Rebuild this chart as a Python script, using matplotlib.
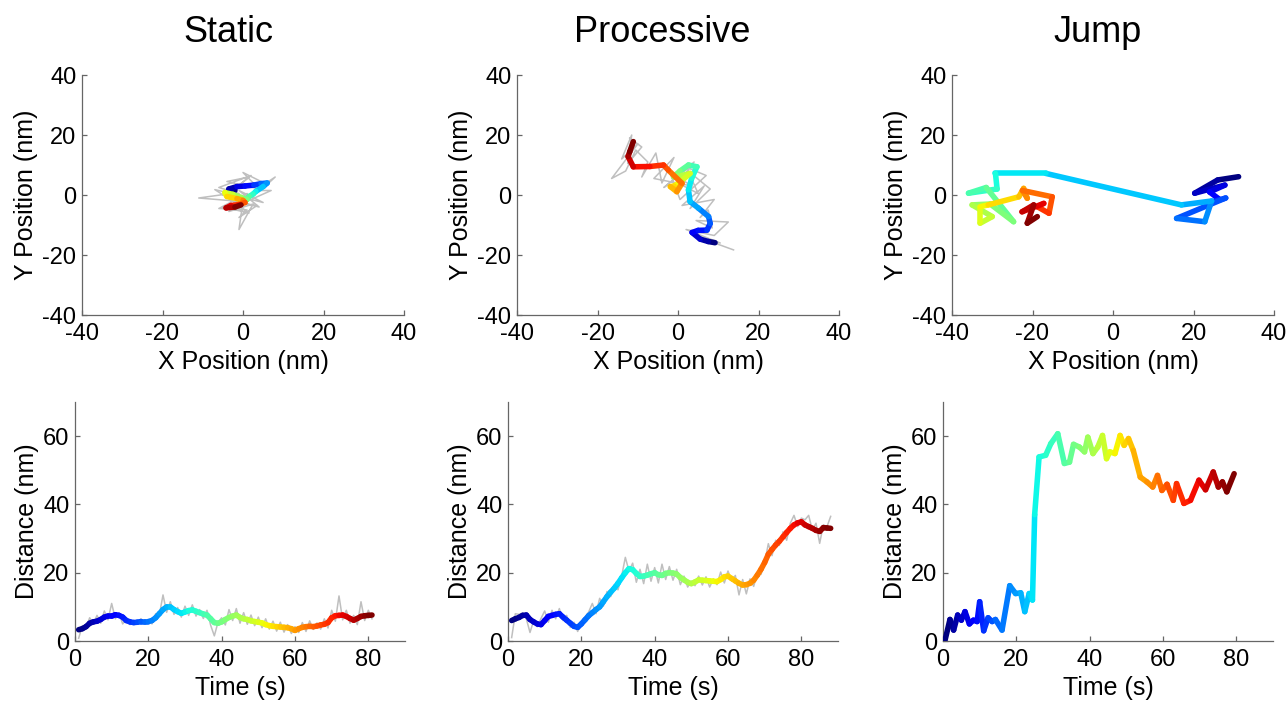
import numpy as np
import matplotlib
matplotlib.use('Agg')
from matplotlib import pyplot as plt
from matplotlib.collections import LineCollection

plt.rcParams['font.family'] = ['Liberation Sans', 'DejaVu Sans']
plt.rcParams['axes.unicode_minus'] = False

titles = ['Static', 'Processive', 'Jump']

# ---- top row: x/y positions (nm), smoothed track in time order ----
static_x = [-2.0, -3.5, -1.5, 0.5, 2.7, 4.5, 6.0, 5.0, 3.2, 2.5, 1.5, 1.0, -0.5, -2.5,
            -4.5, -4.0, -1.5, 0.0, 0.5, -1.0, -3.0, -4.2, -2.0, -0.5]
static_y = [1.5, 2.0, 2.8, 3.0, 3.3, 3.8, 4.0, 2.8, 1.2, 0.3, -0.5, -1.5, -0.8, 0.2,
            0.8, -0.5, -1.2, -1.8, -2.5, -3.2, -3.5, -4.3, -4.0, -3.3]
static_raw_x = [-1.0, -6.0, 2.0, -3.0, 1.5, -4.0, 4.0, 0.0, 6.0, 8.0, 3.0, 7.0, 2.0, 5.0,
                -1.0, 4.0, -2.0, -11.0, -3.0, -7.0, -1.5, 1.0, -3.5, 2.5, -1.0, 0.0,
                -5.0, 1.5, -2.5, -6.0, 1.0, -1.0, 3.5, -2.0]
static_raw_y = [0.5, 2.5, 6.5, 1.0, 6.0, 4.5, 2.0, 7.5, 3.5, 6.0, 1.5, 1.5, -1.5, -2.5,
                1.5, -4.0, -2.0, -1.0, 0.5, 1.8, -3.0, 0.5, -5.5, -3.0, -11.5, -2.0,
                -4.0, -6.0, -2.0, -4.5, -5.0, -7.5, -3.5, -2.5]

proc_x = [9.2, 7.5, 5.5, 3.5, 5.0, 7.2, 8.0, 7.6, 5.1, 3.0, 2.6, 3.4, 4.7, 2.6, 0.5,
          -1.1, 1.0, 3.0, 0.6, -1.0, -1.9, -0.3, 1.0, -2.4, -3.6, -7.0, -11.1, -12.4,
          -12.0, -11.1]
proc_y = [-15.9, -15.5, -14.7, -12.5, -11.8, -11.7, -9.5, -7.2, -4.4, -2.2, 1.7, 5.6,
          9.4, 10.0, 8.0, 6.1, 6.5, 7.2, 4.4, 3.0, 2.8, 1.1, 3.9, 8.3, 10.0, 9.5, 9.4,
          12.8, 14.4, 17.8]
proc_raw_x = [13.8, 6.0, 10.5, 2.0, 9.0, 12.5, 4.5, 8.5, 7.5, 5.5, 9.0, 1.0, 6.5, 3.0,
              8.0, 2.5, 5.0, 0.0, 4.0, -3.5, 2.5, 7.0, 0.5, -2.0, 3.5, -6.0, -1.0,
              -4.0, -5.5, -9.0, -7.5, -10.5, -13.0, -16.5, -10.0, -14.0, -11.5, -12.5,
              -9.0, -12.0]
proc_raw_y = [-18.3, -14.5, -16.0, -11.5, -13.5, -9.0, -8.5, -11.0, -5.0, -7.5, -1.5,
              -3.5, 3.0, -4.5, 2.0, 8.0, 0.5, 4.0, 11.0, 2.5, 9.0, 6.5, -1.5, 7.5, 3.0,
              5.5, 12.5, 4.0, 14.0, 6.0, 11.0, 15.0, 8.0, 5.5, 17.0, 12.0, 20.0, 10.5,
              16.0, 19.0]

jump_x = [31.2, 26.0, 20.3, 27.8, 24.0, 26.5, 23.7, 28.0, 15.8, 22.8, 24.5, 17.0,
          -16.7, -29.2, -28.8, -35.9, -31.5, -24.7, -30.5, -35.0, -30.0, -33.0, -33.0,
          -31.0, -23.4, -22.2, -21.3, -22.5, -15.1, -15.9, -18.8, -17.2, -22.6, -19.7,
          -21.3, -18.8]
jump_y = [6.1, 5.0, 0.6, 3.3, 1.0, -1.5, -2.8, -1.0, -7.8, -8.9, -2.0, -3.3,
          7.2, 7.2, 2.0, 0.6, 2.5, -8.9, -3.0, -3.3, -7.2, -9.4, -3.9,
          -3.3, -0.6, 2.2, -1.1, 1.5, -0.6, -6.1, -3.9, -2.8, -5.6, -3.3,
          -9.4, -7.2]

# ---- bottom row: distance (nm) vs time (s) ----
static_t = list(range(1, 82))
static_d = [3.3, 3.6, 4.2, 5.2, 5.6, 5.8, 6.3, 7.0, 7.3, 7.3, 7.7, 7.5, 7.0, 6.0, 5.6,
            5.4, 5.5, 5.7, 5.7, 5.7, 6.0, 6.8, 8.0, 9.2, 10.0, 10.0, 9.2, 8.6, 8.1, 8.5,
            8.9, 9.1, 8.7, 8.3, 7.9, 7.6, 6.5, 5.4, 5.2, 5.6, 6.3, 6.9, 7.3, 7.6, 6.9,
            6.5, 6.3, 5.9, 5.7, 5.5, 5.3, 4.8, 4.5, 4.3, 4.2, 4.1, 4.0, 3.9, 3.6, 3.1,
            3.6, 4.0, 4.2, 4.3, 4.2, 4.4, 4.7, 4.9, 5.4, 6.8, 7.4, 7.5, 7.6, 7.2, 6.6,
            6.1, 6.6, 7.2, 7.4, 7.5, 7.6]
static_d_raw = [0.8, 4.5, 3.8, 6.8, 5.0, 7.5, 5.2, 8.8, 6.2, 11.0, 6.5, 8.2, 5.0, 6.4,
                4.8, 5.9, 5.0, 6.5, 5.2, 6.2, 5.0, 8.0, 7.6, 13.5, 8.4, 11.5, 7.8, 9.8,
                7.0, 10.2, 7.5, 10.6, 7.3, 9.2, 6.6, 9.0, 4.6, 1.5, 5.5, 6.8, 4.7, 9.2,
                6.0, 9.5, 5.2, 8.3, 4.9, 7.6, 4.5, 7.0, 3.9, 6.5, 3.5, 5.8, 2.9, 5.5,
                2.6, 4.8, 2.2, 4.2, 2.5, 5.4, 2.8, 5.9, 3.4, 5.3, 3.5, 6.5, 3.8, 9.0,
                5.8, 13.2, 6.2, 9.0, 5.2, 7.5, 4.8, 11.5, 6.0, 9.0, 6.5]

proc_t = list(range(1, 89))
proc_d = [6.0, 6.5, 6.9, 7.5, 7.6, 6.3, 5.6, 5.0, 4.8, 6.0, 7.2, 7.5, 7.8, 8.0, 7.0,
          6.1, 5.2, 4.3, 4.0, 5.0, 6.2, 7.4, 8.3, 9.2, 10.0, 11.5, 13.0, 14.3, 15.5,
          16.9, 18.5, 20.0, 21.2, 20.9, 19.8, 18.9, 19.0, 19.3, 19.7, 20.0, 19.4, 19.2,
          19.8, 20.0, 19.9, 19.6, 18.6, 17.9, 17.2, 16.8, 17.3, 17.9, 17.8, 17.7, 17.6,
          17.5, 17.4, 18.0, 18.8, 19.0, 18.3, 17.6, 16.9, 16.4, 16.5, 16.9, 17.8, 19.3,
          21.0, 23.0, 25.4, 26.8, 28.1, 29.2, 30.5, 31.8, 33.0, 34.0, 34.6, 34.9, 34.0,
          33.5, 33.0, 32.4, 32.1, 33.2, 33.1, 33.0]
proc_d_raw = [1.0, 8.0, 7.8, 8.2, 6.5, 2.5, 6.0, 4.2, 6.6, 8.8, 5.5, 9.0, 6.5, 9.5, 6.0,
              7.5, 4.0, 5.5, 2.8, 5.5, 7.0, 8.5, 11.0, 8.0, 12.5, 10.2, 14.5, 13.0, 16.5,
              15.0, 19.0, 24.5, 20.5, 22.8, 17.2, 21.0, 16.8, 22.5, 17.5, 21.5, 17.0,
              22.5, 18.0, 21.8, 17.8, 21.0, 16.5, 19.0, 15.8, 17.5, 16.2, 19.0, 16.4,
              18.8, 15.8, 18.2, 16.5, 20.2, 17.0, 20.5, 17.5, 19.2, 13.5, 18.0, 13.8,
              18.2, 16.0, 20.0, 19.5, 23.0, 28.5, 25.0, 29.5, 28.0, 32.0, 29.5, 34.5,
              36.8, 33.5, 36.0, 35.5, 36.8, 32.5, 34.5, 28.6, 34.0, 33.5, 36.5]

jump_t = [0.5, 1.9, 2.9, 4.0, 5.0, 6.0, 7.2, 8.3, 9.3, 10.0, 11.1, 12.3, 13.4, 14.3,
          16.1, 18.2, 19.8, 21.2, 22.3, 23.5, 24.4, 25.0, 26.2, 28.0, 29.4, 31.3, 33.1,
          34.5, 35.6, 37.2, 38.6, 39.5, 40.9, 42.2, 43.5, 44.6, 45.5, 46.9, 48.3, 49.4,
          50.6, 51.9, 53.8, 55.6, 57.2, 58.5, 59.7, 61.1, 62.8, 63.7, 65.7, 67.5, 69.8,
          71.6, 73.7, 75.1, 76.2, 77.4, 79.4]
jump_d = [0.0, 6.3, 3.2, 7.6, 6.1, 8.6, 5.0, 6.1, 5.7, 11.5, 3.0, 6.8, 5.7, 6.3, 3.2,
          16.2, 13.9, 14.1, 8.6, 13.9, 12.0, 37.0, 53.9, 54.4, 57.8, 60.7, 52.0, 52.4,
          57.6, 56.8, 55.4, 59.7, 54.9, 56.8, 60.2, 53.4, 55.4, 54.9, 60.2, 57.3, 59.3,
          55.8, 48.0, 46.6, 45.1, 48.5, 44.1, 45.9, 41.2, 46.1, 40.3, 41.2, 47.1, 44.3,
          49.5, 45.1, 46.6, 43.7, 49.0]


def jet_line(ax, x, y, lw=4.0):
    pts = np.column_stack([x, y]).reshape(-1, 1, 2)
    segs = np.concatenate([pts[:-1], pts[1:]], axis=1)
    cols = plt.cm.jet(np.linspace(0, 1, len(segs)))
    lc = LineCollection(segs, colors=cols, linewidths=lw, capstyle='round',
                        joinstyle='round', zorder=3)
    ax.add_collection(lc)


def style(ax):
    for s in ['top', 'right']:
        ax.spines[s].set_visible(False)
    for s in ['left', 'bottom']:
        ax.spines[s].set_color('0.4')
        ax.spines[s].set_linewidth(0.9)
    ax.tick_params(direction='in', length=3.5, width=0.9, color='0.4',
                   labelsize=17)
    ax.tick_params(axis='x', pad=6)
    ax.tick_params(axis='y', pad=4)


fig = plt.figure(figsize=(12.88, 7.03), dpi=100)
W, H = 1288.0, 703.0

top_left = [82, 517, 952]
bot_left = [75, 508, 943]
title_x = [228, 662, 1098]

xy_data = [(static_x, static_y, static_raw_x, static_raw_y),
           (proc_x, proc_y, proc_raw_x, proc_raw_y),
           (jump_x, jump_y, None, None)]
dist_data = [(static_t, static_d, static_d_raw),
             (proc_t, proc_d, proc_d_raw),
             (jump_t, jump_d, None)]

for i in range(3):
    # top: xy track
    ax = fig.add_axes([top_left[i] / W, (H - 315) / H, 322 / W, 240 / H])
    x, y, rx, ry = xy_data[i]
    if rx is not None:
        ax.plot(rx, ry, color='0.75', lw=1.1, zorder=2)
    jet_line(ax, x, y)
    ax.set_xlim(-40, 40)
    ax.set_ylim(-40, 40)
    ax.set_xticks([-40, -20, 0, 20, 40])
    ax.set_yticks([-40, -20, 0, 20, 40])
    ax.set_xlabel('X Position (nm)', fontsize=18, labelpad=3)
    ax.set_ylabel('Y Position (nm)', fontsize=18, labelpad=3)
    style(ax)
    fig.text(title_x[i] / W, 1 - 33 / H, titles[i], fontsize=26,
             ha='center', va='center')

    # bottom: distance vs time
    ax2 = fig.add_axes([bot_left[i] / W, (H - 641) / H, 330 / W, 239 / H])
    t, d, draw = dist_data[i]
    if draw is not None:
        ax2.plot(t, draw, color='0.75', lw=1.1, zorder=2)
    jet_line(ax2, t, d)
    ax2.set_xlim(0, 90)
    ax2.set_ylim(0, 70)
    ax2.set_xticks([0, 20, 40, 60, 80])
    ax2.set_yticks([0, 20, 40, 60])
    ax2.set_xlabel('Time (s)', fontsize=18, labelpad=3)
    ax2.set_ylabel('Distance (nm)', fontsize=18, labelpad=3)
    style(ax2)

fig.savefig('out.png', dpi=100)
